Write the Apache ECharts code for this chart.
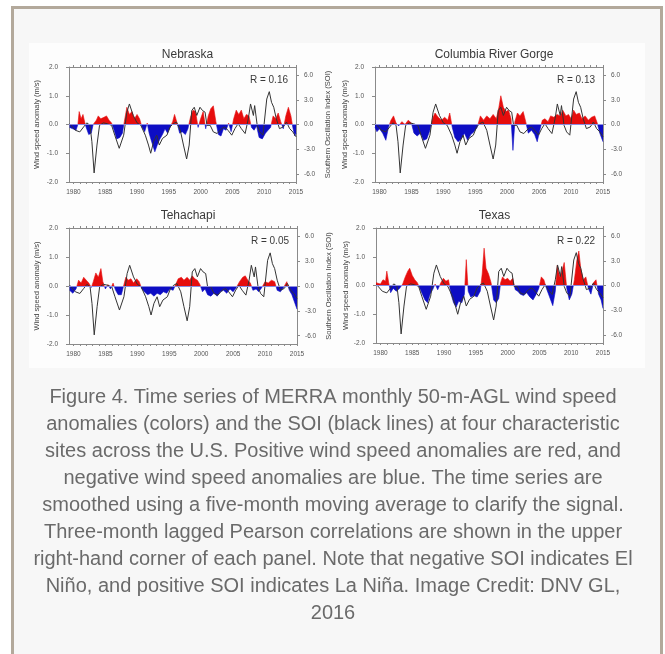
<!DOCTYPE html>
<html>
<head>
<meta charset="utf-8">
<script src="https://cdn.jsdelivr.net/npm/echarts@6/dist/echarts.min.js"></script>
<style>
  html, body { margin: 0; padding: 0; background: #fff; }
  #frame { position: absolute; left: 11px; top: 6px; width: 646px; height: 700px; border: 3px solid #b3a99b; background: #f7f7f7; }
  #figure { position: absolute; left: 29px; top: 43px; width: 616px; height: 325px; background: #fdfdfd; }
  #chart { position: absolute; left: 0; top: 0; width: 665px; height: 654px; }
</style>
</head>
<body>
<div id="frame"></div>
<div id="figure"></div>
<div id="chart"></div>
<script>
// 站点与相关系数
const sites = ['Nebraska', 'Columbia River Gorge', 'Tehachapi', 'Texas']
const corrLabels = ['R = 0.16', 'R = 0.13', 'R = 0.05', 'R = 0.22']

// 坐标轴刻度
const yearLabels = [1980, 1985, 1990, 1995, 2000, 2005, 2010, 2015]
const yearTicks = [1980, 1981, 1982, 1983, 1984, 1985, 1986, 1987, 1988, 1989, 1990, 1991, 1992, 1993, 1994, 1995, 1996, 1997, 1998, 1999, 2000, 2001, 2002, 2003, 2004, 2005, 2006, 2007, 2008, 2009, 2010, 2011, 2012, 2013, 2014, 2015]
const soiTicks = [-6, -3, 0, 3, 6]

// SOI（黑线），四个站点相同
const soi = [
  [1979.4, 0.1], [1980.3, -0.7], [1981.0, -0.9], [1981.6, -0.3], [1982.1, 0.2], [1982.6, -0.1],
  [1982.9, -2.1], [1983.25, -5.9], [1983.7, -2.5], [1984.1, -0.1], [1984.7, 0.2], [1985.3, 0.1],
  [1986.0, -0.1], [1986.5, -1.3], [1987.2, -2.9], [1987.9, -1.3], [1988.4, 1.5], [1988.8, 2.5],
  [1989.4, 1.1], [1990.0, 0.2], [1990.6, -0.1], [1991.3, -1.3], [1991.8, -2.5], [1992.15, -3.5],
  [1992.6, -2.1], [1993.1, -1.3], [1993.5, -2.5], [1994.0, -1.7], [1994.7, -1.3], [1995.2, -0.3],
  [1995.7, 0.1], [1996.2, 0.3], [1996.8, -0.7], [1997.3, -2.5], [1997.8, -4.2], [1998.2, -2.5],
  [1998.6, 1.7], [1999.0, 2.1], [1999.4, 1.1], [1999.9, 2.1], [2000.3, 1.7], [2000.7, 1.5],
  [2001.0, -0.1], [2001.5, -0.1], [2002.0, -0.9], [2002.6, -1.1], [2003.3, -0.5], [2003.8, -0.3],
  [2004.3, -0.7], [2004.9, -1.3], [2005.4, -0.5], [2005.9, 0.1], [2006.4, -0.5], [2007.0, -1.1],
  [2007.5, 0.7], [2007.85, 2.5], [2008.3, 1.1], [2008.5, 2.3], [2008.9, -0.1], [2009.3, -0.9],
  [2009.8, -1.3], [2010.4, 3.1], [2010.8, 4.0], [2011.15, 2.7], [2011.5, 2.1], [2011.9, 0.7],
  [2012.4, -0.5], [2013.0, -0.3], [2013.5, 0.3], [2014.0, -0.5], [2014.5, -0.9], [2015.0, -1.5]
]

// 风速距平 (m/s)
const nebraskaWind = [
  [1979.4, -0.1], [1979.9, -0.15], [1980.4, -0.2], [1980.7, 0.0], [1980.9, 0.45], [1981.2, 0.2],
  [1981.5, 0.35], [1981.8, 0.05], [1982.0, -0.1], [1982.4, -0.35], [1982.8, -0.3], [1983.1, 0.0],
  [1983.6, 0.15], [1983.9, 0.3], [1984.3, 0.2], [1984.8, 0.25], [1985.2, 0.3], [1985.6, 0.15],
  [1986.0, 0.05], [1986.4, -0.2], [1986.8, -0.5], [1987.3, -0.45], [1987.7, -0.3], [1988.0, 0.1],
  [1988.4, 0.6], [1988.8, 0.35], [1989.2, 0.45], [1989.6, 0.2], [1990.0, 0.35], [1990.4, 0.2],
  [1990.8, -0.1], [1991.2, -0.25], [1991.6, 0.05], [1991.9, -0.3], [1992.3, -0.6], [1992.8, -0.95],
  [1993.2, -0.7], [1993.6, -0.5], [1994.0, -0.35], [1994.4, -0.15], [1994.8, -0.3], [1995.2, -0.1],
  [1995.6, 0.1], [1995.9, 0.35], [1996.3, 0.05], [1996.7, -0.3], [1997.1, -0.25], [1997.6, -0.35],
  [1998.0, -0.15], [1998.4, 0.25], [1998.8, 0.5], [1999.2, 0.45], [1999.6, -0.1], [2000.0, 0.2],
  [2000.4, 0.45], [2000.8, -0.15], [2001.2, 0.3], [2001.6, 0.55], [2002.0, 0.65], [2002.4, 0.1],
  [2002.8, -0.35], [2003.2, -0.4], [2003.6, -0.15], [2004.0, -0.2], [2004.4, 0.05], [2004.8, -0.25],
  [2005.2, 0.2], [2005.6, 0.5], [2006.0, 0.35], [2006.4, 0.5], [2006.8, 0.2], [2007.2, 0.35],
  [2007.6, 0.3], [2008.0, -0.1], [2008.4, -0.2], [2008.8, -0.05], [2009.2, -0.45], [2009.7, -0.5],
  [2010.2, -0.3], [2010.6, -0.2], [2011.0, -0.1], [2011.4, 0.3], [2011.8, 0.2], [2012.2, 0.4],
  [2012.6, 0.1], [2013.0, -0.15], [2013.4, 0.3], [2013.8, 0.6], [2014.2, 0.3], [2014.5, -0.1],
  [2014.8, -0.4], [2015.0, -0.3]
]
const columbiaWind = [
  [1979.3, -0.1], [1979.6, -0.25], [1980.0, -0.15], [1980.5, -0.3], [1981.0, -0.55], [1981.4, -0.1],
  [1981.8, 0.15], [1982.2, 0.3], [1982.6, 0.05], [1983.0, -0.05], [1983.5, 0.1], [1984.0, 0.0],
  [1984.5, 0.15], [1985.0, 0.05], [1985.4, -0.3], [1985.9, -0.4], [1986.4, -0.3], [1986.9, -0.55],
  [1987.4, -0.5], [1987.9, -0.2], [1988.3, 0.2], [1988.7, 0.4], [1989.2, 0.25], [1989.7, 0.15],
  [1990.2, 0.25], [1990.7, 0.15], [1991.0, 0.4], [1991.4, -0.1], [1991.8, -0.45], [1992.3, -0.6],
  [1992.8, -0.5], [1993.3, -0.3], [1993.8, -0.55], [1994.3, -0.35], [1994.8, -0.25], [1995.3, -0.1],
  [1995.8, 0.3], [1996.3, 0.15], [1996.8, 0.3], [1997.3, 0.2], [1997.8, 0.35], [1998.3, 0.2],
  [1998.7, 0.6], [1999.0, 1.0], [1999.4, 0.6], [1999.8, 0.45], [2000.2, 0.5], [2000.6, 0.2],
  [2000.9, -0.9], [2001.2, 0.1], [2001.6, 0.4], [2002.0, 0.3], [2002.5, 0.45], [2002.9, 0.1],
  [2003.3, -0.3], [2003.8, -0.2], [2004.3, -0.35], [2004.7, -0.6], [2005.1, -0.2], [2005.5, 0.15],
  [2005.9, 0.2], [2006.4, 0.1], [2006.8, 0.3], [2007.3, 0.25], [2007.8, 0.35], [2008.3, 0.3],
  [2008.7, 0.5], [2009.2, 0.3], [2009.6, 0.35], [2010.0, 0.2], [2010.4, 0.5], [2010.8, 0.35],
  [2011.3, 0.4], [2011.7, 0.2], [2012.2, 0.3], [2012.7, 0.15], [2013.2, 0.25], [2013.7, 0.3],
  [2014.1, 0.05], [2014.5, -0.3], [2015.0, -0.6]
]
const tehachapiWind = [
  [1979.4, -0.15], [1979.9, -0.25], [1980.4, -0.1], [1980.8, 0.2], [1981.2, 0.1], [1981.6, 0.3],
  [1982.0, 0.2], [1982.4, 0.1], [1982.8, -0.05], [1983.1, 0.15], [1983.5, 0.45], [1983.9, 0.3],
  [1984.3, 0.6], [1984.6, 0.15], [1985.0, -0.1], [1985.4, 0.05], [1985.8, -0.1], [1986.2, 0.1],
  [1986.6, -0.15], [1987.0, -0.3], [1987.5, -0.3], [1987.9, 0.05], [1988.2, 0.3], [1988.6, 0.2],
  [1989.0, 0.25], [1989.4, 0.1], [1989.9, 0.25], [1990.3, 0.15], [1990.7, -0.1], [1991.1, -0.2],
  [1991.6, -0.3], [1992.1, -0.25], [1992.6, -0.35], [1993.1, -0.25], [1993.6, -0.3], [1994.1, -0.2],
  [1994.6, -0.25], [1995.1, -0.1], [1995.6, -0.15], [1996.0, 0.05], [1996.4, 0.25], [1996.9, 0.3],
  [1997.3, 0.2], [1997.8, 0.3], [1998.2, 0.2], [1998.6, 0.35], [1999.0, 0.25], [1999.4, 0.2],
  [1999.8, 0.05], [2000.2, -0.2], [2000.6, -0.1], [2001.0, -0.3], [2001.5, -0.35], [2002.0, -0.25],
  [2002.5, -0.35], [2003.0, -0.2], [2003.5, -0.15], [2004.0, -0.25], [2004.5, -0.1], [2005.0, -0.2],
  [2005.5, -0.05], [2006.0, 0.15], [2006.5, 0.3], [2006.9, 0.35], [2007.3, 0.2], [2007.7, 0.1],
  [2008.1, -0.15], [2008.6, -0.1], [2009.0, -0.2], [2009.5, -0.05], [2010.0, 0.15], [2010.5, 0.1],
  [2011.0, 0.2], [2011.5, 0.15], [2011.9, -0.15], [2012.4, -0.2], [2012.9, -0.05], [2013.4, 0.15],
  [2013.8, -0.15], [2014.2, -0.3], [2014.6, -0.55], [2015.0, -0.8]
]
const texasWind = [
  [1979.3, 0.1], [1979.5, 0.15], [1980.0, 0.05], [1980.4, 0.2], [1980.8, 0.15], [1981.0, 0.5],
  [1981.3, 0.1], [1981.6, -0.25], [1982.0, -0.1], [1982.5, -0.2], [1983.0, -0.1], [1983.5, 0.05],
  [1983.9, 0.3], [1984.3, 0.5], [1984.6, 0.6], [1985.0, 0.35], [1985.4, 0.2], [1985.8, 0.1],
  [1986.2, -0.1], [1986.6, -0.3], [1987.0, -0.5], [1987.4, -0.6], [1987.8, -0.3], [1988.2, -0.15],
  [1988.6, 0.05], [1989.0, -0.15], [1989.5, 0.1], [1989.9, 0.25], [1990.3, 0.15], [1990.7, 0.2],
  [1991.1, -0.3], [1991.5, -0.6], [1991.9, -0.75], [1992.3, -0.55], [1992.8, -0.6], [1993.2, -0.3],
  [1993.5, 0.9], [1993.8, -0.2], [1994.2, -0.4], [1994.7, -0.35], [1995.2, -0.4], [1995.7, -0.2],
  [1996.0, 0.4], [1996.3, 1.3], [1996.6, 0.6], [1997.0, 0.4], [1997.4, 0.1], [1997.8, -0.5],
  [1998.2, -0.6], [1998.6, -0.45], [1998.9, 0.1], [1999.2, 0.3], [1999.6, 0.2], [2000.0, 0.25],
  [2000.4, 0.15], [2000.8, 0.25], [2001.2, -0.15], [2001.6, -0.2], [2002.0, -0.3], [2002.5, -0.35],
  [2003.0, -0.25], [2003.5, -0.4], [2004.0, -0.5], [2004.5, -0.3], [2004.9, -0.1], [2005.3, 0.3],
  [2005.7, 0.2], [2006.1, -0.1], [2006.6, -0.4], [2007.1, -0.7], [2007.5, -0.2], [2007.8, 0.7],
  [2008.2, 0.3], [2008.6, 0.55], [2008.9, 0.8], [2009.3, -0.1], [2009.7, -0.5], [2010.1, -0.3],
  [2010.5, 0.2], [2010.9, 0.9], [2011.2, 1.2], [2011.5, 0.6], [2011.9, 0.2], [2012.3, 0.3],
  [2012.7, -0.1], [2013.1, -0.3], [2013.5, 0.1], [2013.9, 0.2], [2014.3, -0.3], [2014.7, -0.5],
  [2015.0, -0.8]
]
const windData = [nebraskaWind, columbiaWind, tehachapiWind, texasWind]

// 图注
const caption = [
  'Figure 4. Time series of MERRA monthly 50-m-AGL wind speed',
  'anomalies (colors) and the SOI (black lines) at four characteristic',
  'sites across the U.S. Positive wind speed anomalies are red, and',
  'negative wind speed anomalies are blue. The time series are',
  'smoothed using a five-month moving average to clarify the signal.',
  'Three-month lagged Pearson correlations are shown in the upper',
  'right-hand corner of each panel. Note that negative SOI indicates El',
  'Niño, and positive SOI indicates La Niña. Image Credit: DNV GL,',
  '2016'
]

// 面板位置
const panels = [
  { left: 69, top: 67, width: 227, height: 115 },
  { left: 375, top: 67, width: 228, height: 115 },
  { left: 69, top: 228, width: 228, height: 116 },
  { left: 376, top: 228, width: 227, height: 115 }
]

const font = '"Liberation Sans", Arial, Helvetica, sans-serif'
const axisColor = '#8a8a8a'
const labelColor = '#555'
const red = '#e60d0d'
const blue = '#0d0dc4'

const option = {
  animation: false,
  textStyle: { fontFamily: font },
  grid: [],
  xAxis: [],
  yAxis: [],
  series: [],
  visualMap: [],
  title: [],
  graphic: [{
    type: 'text',
    style: {
      x: 333,
      y: 384,
      text: caption.join('\n'),
      align: 'center',
      verticalAlign: 'top',
      fontSize: 20,
      lineHeight: 27,
      fontFamily: font,
      fill: '#6a6a6a'
    }
  }]
}

panels.forEach((p, i) => {
  const isRight = i % 2 === 1
  option.grid.push({ ...p, show: false })

  const axisLine = { show: true, onZero: false, lineStyle: { color: axisColor, width: 1 } }
  const tick = { show: true, length: 2, lineStyle: { color: axisColor } }

  option.xAxis.push({
    type: 'value', gridIndex: i, min: 1979.3, max: 2015, position: 'bottom',
    axisLine,
    axisTick: { ...tick, customValues: yearTicks },
    axisLabel: { customValues: yearLabels, fontSize: 6.5, color: labelColor, margin: 7, formatter: v => String(v) },
    splitLine: { show: false }
  })
  option.xAxis.push({
    type: 'value', gridIndex: i, min: 1979.3, max: 2015, position: 'top',
    axisLine,
    axisTick: { ...tick, customValues: yearTicks },
    axisLabel: { show: false },
    splitLine: { show: false }
  })
  option.yAxis.push({
    type: 'value', gridIndex: i, min: -2, max: 2, interval: 1, position: 'left',
    name: 'Wind speed anomaly (m/s)', nameLocation: 'middle', nameRotate: 90,
    nameGap: isRight ? 26 : 28,
    nameTextStyle: { fontSize: 7.5, color: '#444' },
    axisLine,
    axisTick: { ...tick, length: 3 },
    axisLabel: { fontSize: 6.5, color: labelColor, margin: 11, formatter: v => v.toFixed(1) },
    splitLine: { show: false }
  })
  option.yAxis.push({
    type: 'value', gridIndex: i, min: -7, max: 7, position: 'right',
    name: isRight ? '' : 'Southern Oscillation Index (SOI)', nameLocation: 'middle', nameRotate: 90,
    nameGap: 28,
    nameTextStyle: { fontSize: 7.5, color: '#444' },
    axisLine,
    axisTick: { ...tick, length: 3, customValues: soiTicks },
    axisLabel: { customValues: soiTicks, fontSize: 6.5, color: labelColor, margin: 8, formatter: v => v.toFixed(1) },
    splitLine: { show: false }
  })

  option.series.push({
    type: 'line',
    name: sites[i] + ' wind',
    xAxisIndex: 2 * i,
    yAxisIndex: 2 * i,
    data: windData[i],
    symbol: 'none',
    lineStyle: { width: 0.6 },
    areaStyle: { opacity: 1 },
    z: 2,
    markLine: {
      silent: true,
      symbol: 'none',
      label: { show: false },
      lineStyle: { color: '#8c8ce0', width: 1, type: 'solid' },
      data: [{ yAxis: 0 }]
    }
  })
  option.series.push({
    type: 'line',
    name: sites[i] + ' SOI',
    xAxisIndex: 2 * i,
    yAxisIndex: 2 * i + 1,
    data: soi,
    symbol: 'none',
    lineStyle: { color: '#333', width: 1 },
    z: 3
  })

  // 正值红色、负值蓝色
  option.visualMap.push({
    show: false,
    type: 'piecewise',
    seriesIndex: 2 * i,
    dimension: 1,
    pieces: [{ gte: -10, lt: 0, color: blue }, { gte: 0, lte: 10, color: red }]
  })

  option.title.push({
    text: sites[i],
    left: p.left + p.width / 2,
    top: p.top - 23,
    textAlign: 'center',
    textStyle: { fontSize: 12, fontWeight: 'normal', color: '#3a3a3a' }
  })
  option.title.push({
    text: corrLabels[i],
    right: 665 - (p.left + p.width - 3),
    top: p.top + 3,
    textStyle: { fontSize: 10, fontWeight: 'normal', color: '#3a3a3a' }
  })
})

const chart = echarts.init(document.getElementById('chart'))
chart.setOption(option)
</script>
</body>
</html>
